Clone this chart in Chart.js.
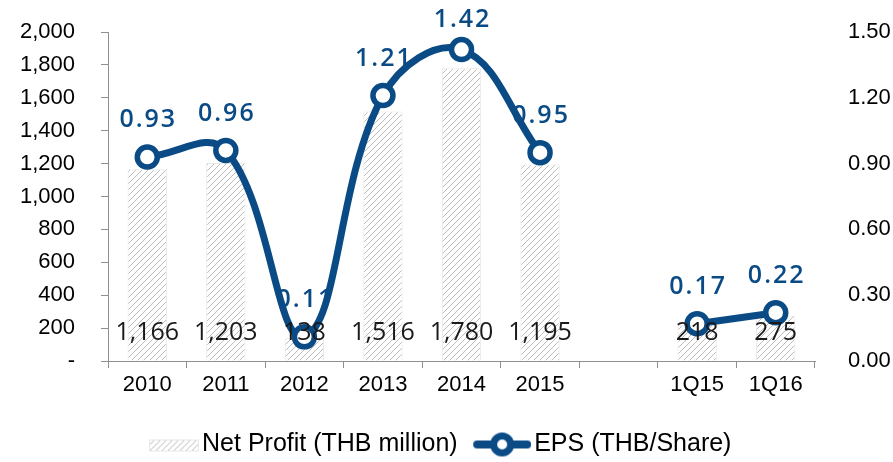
<!DOCTYPE html>
<html>
<head>
<meta charset="utf-8">
<script src="https://cdn.jsdelivr.net/npm/chart.js@4.4.0/dist/chart.umd.min.js"></script>
<style>
    body { margin: 0; background: #fff; }
    #graficaUtilidad { display: block; }
</style>
</head>
<body>
<canvas id="graficaUtilidad" width="893" height="462"></canvas>
<script>
// Datos
const categorias = ['2010', '2011', '2012', '2013', '2014', '2015', '', '1Q15', '1Q16'];
const utilidadNeta = [1166, 1203, 138, 1516, 1780, 1195, null, 218, 275];
const eps = [0.93, 0.96, 0.11, 1.21, 1.42, 0.95, null, 0.17, 0.22];
const ticksUtilidad = [0, 200, 400, 600, 800, 1000, 1200, 1400, 1600, 1800, 2000];
const ticksEps = [0, 0.3, 0.6, 0.9, 1.2, 1.5];

const AZUL = '#0a4b85';
const GRIS_EJE = '#8f8f8f';

Chart.defaults.font.family = "'Liberation Sans', Arial, sans-serif";
Chart.defaults.color = '#000';

const canvas = document.getElementById('graficaUtilidad');
const ctxPrincipal = canvas.getContext('2d');

// Patrón de rayas diagonales para las barras
function crearPatronRayado() {
    const c = document.createElement('canvas');
    c.width = 6;
    c.height = 6;
    const g = c.getContext('2d');
    g.fillStyle = '#fff';
    g.fillRect(0, 0, 6, 6);
    g.strokeStyle = '#bcbcbc';
    g.lineWidth = 1;
    g.beginPath();
    g.moveTo(0, 6); g.lineTo(6, 0);
    g.moveTo(-1, 1); g.lineTo(1, -1);
    g.moveTo(5, 7); g.lineTo(7, 5);
    g.stroke();
    return ctxPrincipal.createPattern(c, 'repeat');
}
const rayado = crearPatronRayado();

// Símbolos de la leyenda (lienzo de 59px, dibujo pegado a la derecha)
function simboloBarra() {
    const c = document.createElement('canvas');
    c.width = 59; c.height = 16;
    const g = c.getContext('2d');
    g.fillStyle = rayado;
    g.fillRect(9, 3, 50, 12);
    g.strokeStyle = '#e6e6e6';
    g.strokeRect(9.5, 3.5, 49, 11);
    return c;
}
function simboloLinea() {
    const c = document.createElement('canvas');
    c.width = 59; c.height = 28;
    const g = c.getContext('2d');
    g.strokeStyle = AZUL;
    g.lineWidth = 8;
    g.lineCap = 'round';
    g.beginPath();
    g.moveTo(5, 14); g.lineTo(55, 14);
    g.stroke();
    g.beginPath();
    g.arc(30, 14, 8.5, 0, Math.PI * 2);
    g.fillStyle = '#fff';
    g.fill();
    g.lineWidth = 7;
    g.stroke();
    return c;
}

// Etiquetas de valores (barras y EPS)
const etiquetasPlugin = {
    id: 'etiquetas',
    afterDatasetsDraw(chart) {
        const ctx = chart.ctx;
        const yBase = chart.scales.y.getPixelForValue(0);
        ctx.save();
        ctx.textAlign = 'center';
        ctx.textBaseline = 'middle';

        const metaBarras = chart.getDatasetMeta(0);
        ctx.font = "400 25px 'Open Sans', sans-serif";
        ctx.fillStyle = '#1a1a1a';
        metaBarras.data.forEach((bar, i) => {
            if (utilidadNeta[i] == null) return;
            ctx.fillText(utilidadNeta[i].toLocaleString('en-US'), bar.x, yBase - 28);
        });

        const metaEps = chart.getDatasetMeta(1);
        ctx.font = "600 25px 'Open Sans', sans-serif";
        ctx.fillStyle = AZUL;
        ctx.letterSpacing = '2px';
        metaEps.data.forEach((pt, i) => {
            if (eps[i] == null) return;
            ctx.fillText(eps[i].toFixed(2), pt.x + 1, Math.max(pt.y - 37, 20));
        });
        ctx.restore();
    }
};

// Ajuste fino de la posición de la leyenda
const moverLeyenda = {
    id: 'moverLeyenda',
    afterLayout(chart) {
        chart.legend.left -= 6;
        chart.legend.right -= 6;
        chart.legend.top += 9;
        chart.legend.bottom += 9;
    }
};

// Sin relleno extra arriba/abajo por las etiquetas del eje
function sinRellenoVertical(scale, ancho) {
    scale.width = ancho;
    scale.paddingTop = 0;
    scale.paddingBottom = 0;
}

new Chart(canvas, {
    type: 'bar',
    data: {
        labels: categorias,
        datasets: [{
            type: 'bar',
            label: 'Net Profit (THB million)',
            data: utilidadNeta,
            backgroundColor: rayado,
            borderColor: '#e8e8e8',
            borderWidth: 1,
            barPercentage: 0.5,
            categoryPercentage: 1,
            yAxisID: 'y',
            order: 2
        }, {
            type: 'line',
            label: 'EPS (THB/Share)',
            data: eps,
            borderColor: AZUL,
            borderWidth: 7,
            tension: 0.4,
            spanGaps: false,
            pointRadius: 10,
            pointHoverRadius: 10,
            pointBackgroundColor: '#fff',
            pointBorderColor: AZUL,
            pointBorderWidth: 5.5,
            yAxisID: 'y1',
            order: 1,
            clip: false
        }]
    },
    options: {
        responsive: false,
        animation: false,
        layout: { padding: { top: 32, left: 0, right: 0, bottom: 4 } },
        plugins: {
            tooltip: { enabled: false },
            legend: {
                position: 'bottom',
                labels: {
                    font: { size: 25 },
                    color: '#000',
                    padding: 24,
                    usePointStyle: true,
                    pointStyleWidth: 40,
                    boxHeight: 20,
                    generateLabels: () => [
                        { text: 'Net Profit (THB million)', pointStyle: simboloBarra(), fillStyle: rayado, lineWidth: 0, hidden: false, datasetIndex: 0 },
                        { text: 'EPS (THB/Share)', pointStyle: simboloLinea(), fillStyle: AZUL, lineWidth: 0, hidden: false, datasetIndex: 1 }
                    ]
                }
            }
        },
        scales: {
            x: {
                grid: { display: true, drawOnChartArea: false, tickLength: 7, color: GRIS_EJE },
                border: { display: true, color: GRIS_EJE },
                ticks: { font: { size: 22 }, color: '#000', padding: 4, maxRotation: 0 },
                afterFit(scale) { scale.height = 38; }
            },
            y: {
                position: 'left',
                min: 0,
                max: 2000,
                afterBuildTicks(scale) { scale.ticks = ticksUtilidad.map(v => ({ value: v })); },
                grid: { display: true, drawOnChartArea: false, tickLength: 7, color: GRIS_EJE },
                border: { display: true, color: GRIS_EJE },
                ticks: {
                    font: { size: 22 },
                    color: '#000',
                    padding: 26,
                    callback: v => v === 0 ? '-' : v.toLocaleString('en-US')
                },
                afterFit(scale) { sinRellenoVertical(scale, 108); }
            },
            y1: {
                position: 'right',
                min: 0,
                max: 1.5,
                afterBuildTicks(scale) { scale.ticks = ticksEps.map(v => ({ value: v })); },
                grid: { display: false },
                border: { display: false },
                ticks: {
                    font: { size: 22 },
                    color: '#000',
                    padding: 25,
                    callback: v => v.toFixed(2)
                },
                afterFit(scale) { sinRellenoVertical(scale, 78); }
            }
        }
    },
    plugins: [etiquetasPlugin, moverLeyenda]
});
</script>
</body>
</html>
